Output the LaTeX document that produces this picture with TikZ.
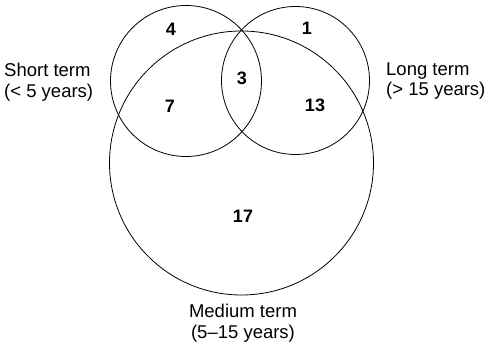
\documentclass[tikz,border=0pt]{standalone}
\usepackage{fontspec}
\setmainfont{Liberation Sans}
\begin{document}
\begin{tikzpicture}[x=1pt,y=-1pt,
  ring/.style={circle,draw,line width=0.8pt,inner sep=0pt},
  num/.style={font=\fontsize{18}{21}\selectfont\bfseries,inner sep=0pt},
  lbl/.style={font=\fontsize{18.5}{20.5}\selectfont,align=left,inner sep=0pt}]
\useasboundingbox (0,0) rectangle (487,344);
\node[ring,minimum size=151pt] (short) at (186,81) {};
\node[ring,minimum size=148pt] (long) at (295.5,80.5) {};
\node[ring,minimum size=264pt] (medium) at (241.5,163) {};
\node[num] (n4) at (171,29) {4};
\node[num] (n1) at (307,28) {1};
\node[num] (n3) at (242,78) {3};
\node[num] (n7) at (170,106) {7};
\node[num] (n13) at (315,105) {13};
\node[num] (n17) at (243,216) {17};
\node[lbl,anchor=west] (ls) at (4,82) {Short term\\(< 5 years)};
\node[lbl,anchor=west] (ll) at (386,81) {Long term\\(> 15 years)};
\node[lbl,align=center] (lm) at (243,323) {Medium term\\(5–15 years)};
\end{tikzpicture}
\end{document}
